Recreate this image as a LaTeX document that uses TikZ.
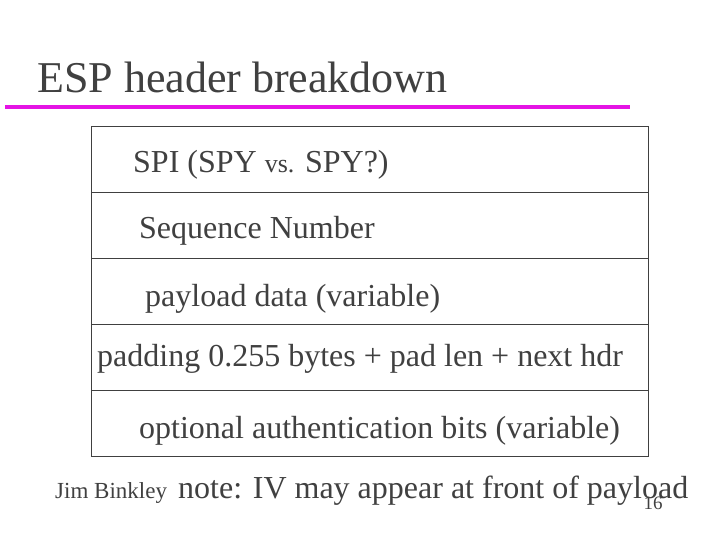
\documentclass[tikz,border=0pt]{standalone}
\usepackage{fontspec}
\setmainfont{Liberation Serif}
\definecolor{txt}{HTML}{404040}
\definecolor{mag}{RGB}{228,20,228}
\begin{document}
\begin{tikzpicture}[x=1pt,y=-1pt,
  txtbase/.style={anchor=base west,inner sep=0pt,text=txt},
  lbl/.style={txtbase,font=\fontsize{32}{36}\selectfont},
  cell/.style={draw=txt,line width=0.8pt,minimum width=557pt,minimum height=66pt,inner sep=0pt,anchor=north west}]
\useasboundingbox[fill=white] (0,0) rectangle (720,540);
\node[txtbase,font=\fontsize{44}{48}\selectfont] (title) at (37,93) {ESP header breakdown};
\coordinate (l1) at (5,107);
\coordinate (l2) at (630,107);
\draw[mag,line width=4.5pt] (l1) -- (l2);
\node[cell] (r1) at (91,126) {};
\node[cell] (r2) at (91,192) {};
\node[cell] (r3) at (91,258) {};
\node[cell] (r4) at (91,324) {};
\node[cell] (r5) at (91,390) {};
\node[lbl] (t1) at (133,173) {SPI (SPY {\fontsize{26}{30}\selectfont vs.} SPY?)};
\node[lbl] (t2) at (139,239) {Sequence Number};
\node[lbl] (t3) at (145,306) {payload data (variable)};
\node[lbl] (t4) at (97,366) {padding 0.255 bytes + pad len + next hdr};
\node[lbl] (t5) at (139,438) {optional authentication bits (variable)};
\node[txtbase,font=\fontsize{23}{26}\selectfont] (au) at (55,498) {Jim Binkley};
\node[lbl] (note) at (178,498) {note: IV may appear at front of payload};
\node[txtbase,anchor=base,font=\fontsize{19}{22}\selectfont] (pg) at (653,509) {16};
\end{tikzpicture}
\end{document}
